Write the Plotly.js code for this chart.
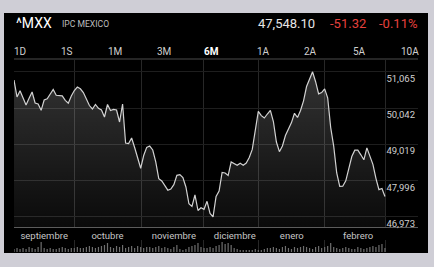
<!DOCTYPE html>
<html>
<head>
<meta charset="utf-8">
<script src="https://cdn.plot.ly/plotly-3.0.1.min.js"></script>
<style>
  html, body { margin: 0; padding: 0; background: #cfced6; }
  #chart { width: 434px; height: 267px; }
</style>
</head>
<body>
<div id="chart"></div>
<script>
// ---- data ----
const symbol = "^MXX";
const indexName = "IPC MEXICO";
const lastPrice = "47,548.10";
const change = "-51.32";
const changePct = "-0.11%";
const ranges = ["1D", "1S", "1M", "3M", "6M", "1A", "2A", "5A", "10A"];
const selectedRange = "6M";

const months = ["septiembre", "octubre", "noviembre", "diciembre", "enero", "febrero"];
// trading-day index of each month label centre and of each month boundary
const monthCenters = [10, 31, 53, 73.2, 92.1, 114.1];
const monthBounds = [20.2, 42.4, 62.7, 81.1, 103.1, 123.1];

const yTicks = [46973, 47996, 49019, 50042, 51065];

const closes = [
  50834, 50354, 50532, 50340, 50129, 50320, 50495, 50185, 50157, 49979,
  50270, 50306, 50419, 50566, 50402, 50391, 50385, 50261, 50177, 50382,
  50537, 50636, 50585, 50481, 50289, 50114, 50016, 50143, 50033, 49988,
  49790, 50143, 49973, 50005, 49988, 49649, 50157, 49057, 49043, 49198,
  48930, 48642, 48344, 48704, 48933, 48972, 48860, 48527, 48050, 47985,
  47867, 47726, 47760, 47881, 48146, 48166, 48084, 47816, 47342, 47266,
  47591, 47153, 47232, 47187, 47413, 47069, 46973, 47548, 47703, 48225,
  48211, 48140, 48521, 48465, 48428, 48487, 48431, 48493, 48648, 48877,
  49353, 49951, 49830, 49762, 49875, 49976, 49663, 49085, 48812, 48972,
  49268, 49457, 49632, 49895, 49776, 49973, 50247, 50650, 50834, 51065,
  50786, 50444, 50478, 50585, 50332, 49494, 48967, 48211, 47836, 47839,
  47991, 48332, 48676, 48854, 48857, 48724, 48583, 48919, 48679, 48456,
  48062, 47743, 47774, 47548
];

// volume, millions of shares
const volumes = [
  120, 160, 120, 160, 120, 200, 160, 120, 200, 400,
  160, 120, 160, 120, 120, 160, 200, 160, 120, 160,
  160, 200, 160, 160, 200, 240, 200, 160, 200, 240,
  280, 360, 200, 160, 240, 200, 280, 160, 200, 240,
  160, 240, 200, 160, 200, 200, 160, 200, 240, 160,
  200, 160, 120, 200, 280, 120, 80, 120, 200, 240,
  280, 360, 200, 160, 160, 200, 160, 240, 280, 400,
  320, 360, 280, 160, 120, 80, 80, 80, 80, 80,
  120, 80, 80, 120, 160, 160, 200, 160, 120, 200,
  240, 160, 120, 200, 160, 200, 240, 200, 160, 120,
  200, 240, 160, 200, 240, 360, 200, 160, 120, 160,
  200, 160, 120, 120, 200, 160, 120, 160, 200, 240,
  200, 280, 320, 160
];

const idx = closes.map((_, i) => i);

// ---- geometry helpers for page furniture (pixel -> paper) ----
const L = 14, R = 16, T = 60, B = 15, W = 434, H = 267;
const pw = W - L - R, ph = H - T - B;
const X = px => (px - L) / pw;
const Y = py => (H - B - py) / ph;

const fam = "Roboto, 'Liberation Sans', sans-serif";

const annotations = [];
function txt(text, x, y, size, color, anchor, bold) {
  annotations.push({
    text: bold ? "<b>" + text + "</b>" : text,
    xref: "paper", yref: "paper", x: X(x), y: Y(y),
    xanchor: anchor, yanchor: "middle", showarrow: false,
    font: { family: fam, size: size, color: color }
  });
}
txt(symbol, 14, 23.5, 14, "#ffffff", "left");
txt(indexName, 60, 24.3, 8.6, "#bdbdbd", "left");
txt(lastPrice, 316.5, 23.5, 13, "#e6e6e6", "right");
txt(change, 368, 23.5, 13, "#e5413d", "right");
txt(changePct, 419, 23.5, 13, "#e5413d", "right");
const rangeCenters = [20, 67.3, 115, 164.2, 211, 263.5, 310.7, 359, 409.7];
ranges.forEach((r, i) => {
  const sel = r === selectedRange;
  txt(r, rangeCenters[i], 51.7, 10, sel ? "#ffffff" : "#cfcfcf", "center", sel);
});

const shapes = [
  { type: "rect", xref: "paper", yref: "paper", x0: X(4), x1: X(428), y0: Y(253), y1: Y(13),
    fillcolor: "#000000", line: { width: 0 }, layer: "below" },
  { type: "line", xref: "paper", yref: "paper", x0: X(14), x1: X(418), y0: Y(59), y1: Y(59),
    line: { color: "#4a4a4a", width: 1 } }
];

const traces = [
  {
    x: idx, y: closes, type: "scatter", mode: "lines",
    line: { color: "#d2d2d2", width: 1.2 },
    fill: "tozeroy",
    fillgradient: {
      type: "vertical", start: 46688, stop: 51100,
      colorscale: [[0, "rgba(255,255,255,0.04)"], [1, "rgba(255,255,255,0.2)"]]
    },
    hoverinfo: "skip"
  },
  {
    x: idx, y: volumes, type: "bar", yaxis: "y2",
    marker: { color: "#6e6e6e" }, hoverinfo: "skip"
  }
];

const layout = {
  width: W, height: H,
  margin: { l: L, r: R, t: T, b: B, pad: 0 },
  paper_bgcolor: "#cfced6",
  plot_bgcolor: "rgba(0,0,0,0)",
  showlegend: false,
  bargap: 0.6,
  font: { family: fam },
  xaxis: {
    range: [0, 133.95], anchor: "y",
    showgrid: false, zeroline: false,
    showline: true, linecolor: "#5c5c5c", linewidth: 1,
    tickmode: "array", tickvals: monthCenters, ticktext: months,
    ticks: "", tickfont: { family: fam, size: 9.5, color: "#c6c6c6" },
    minor: { tickmode: "array", tickvals: monthBounds, showgrid: true, gridcolor: "#272727", gridwidth: 1 },
    fixedrange: true
  },
  yaxis: {
    domain: [Y(227), 1], range: [46688, 51398], side: "right",
    tickmode: "array", tickvals: yTicks, tickformat: ",d",
    ticklabelposition: "inside bottom",
    ticklabeloverflow: "allow",
    ticks: "", showgrid: true, gridcolor: "#1e1e1e", zeroline: false,
    tickfont: { family: fam, size: 9.5, color: "#d0d0d0" },
    fixedrange: true
  },
  yaxis2: {
    domain: [0, Y(240)], range: [0, 480], anchor: "x",
    visible: false, fixedrange: true
  },
  shapes: shapes,
  annotations: annotations
};

Plotly.newPlot("chart", traces, layout, { staticPlot: true, displayModeBar: false });
</script>
</body>
</html>
